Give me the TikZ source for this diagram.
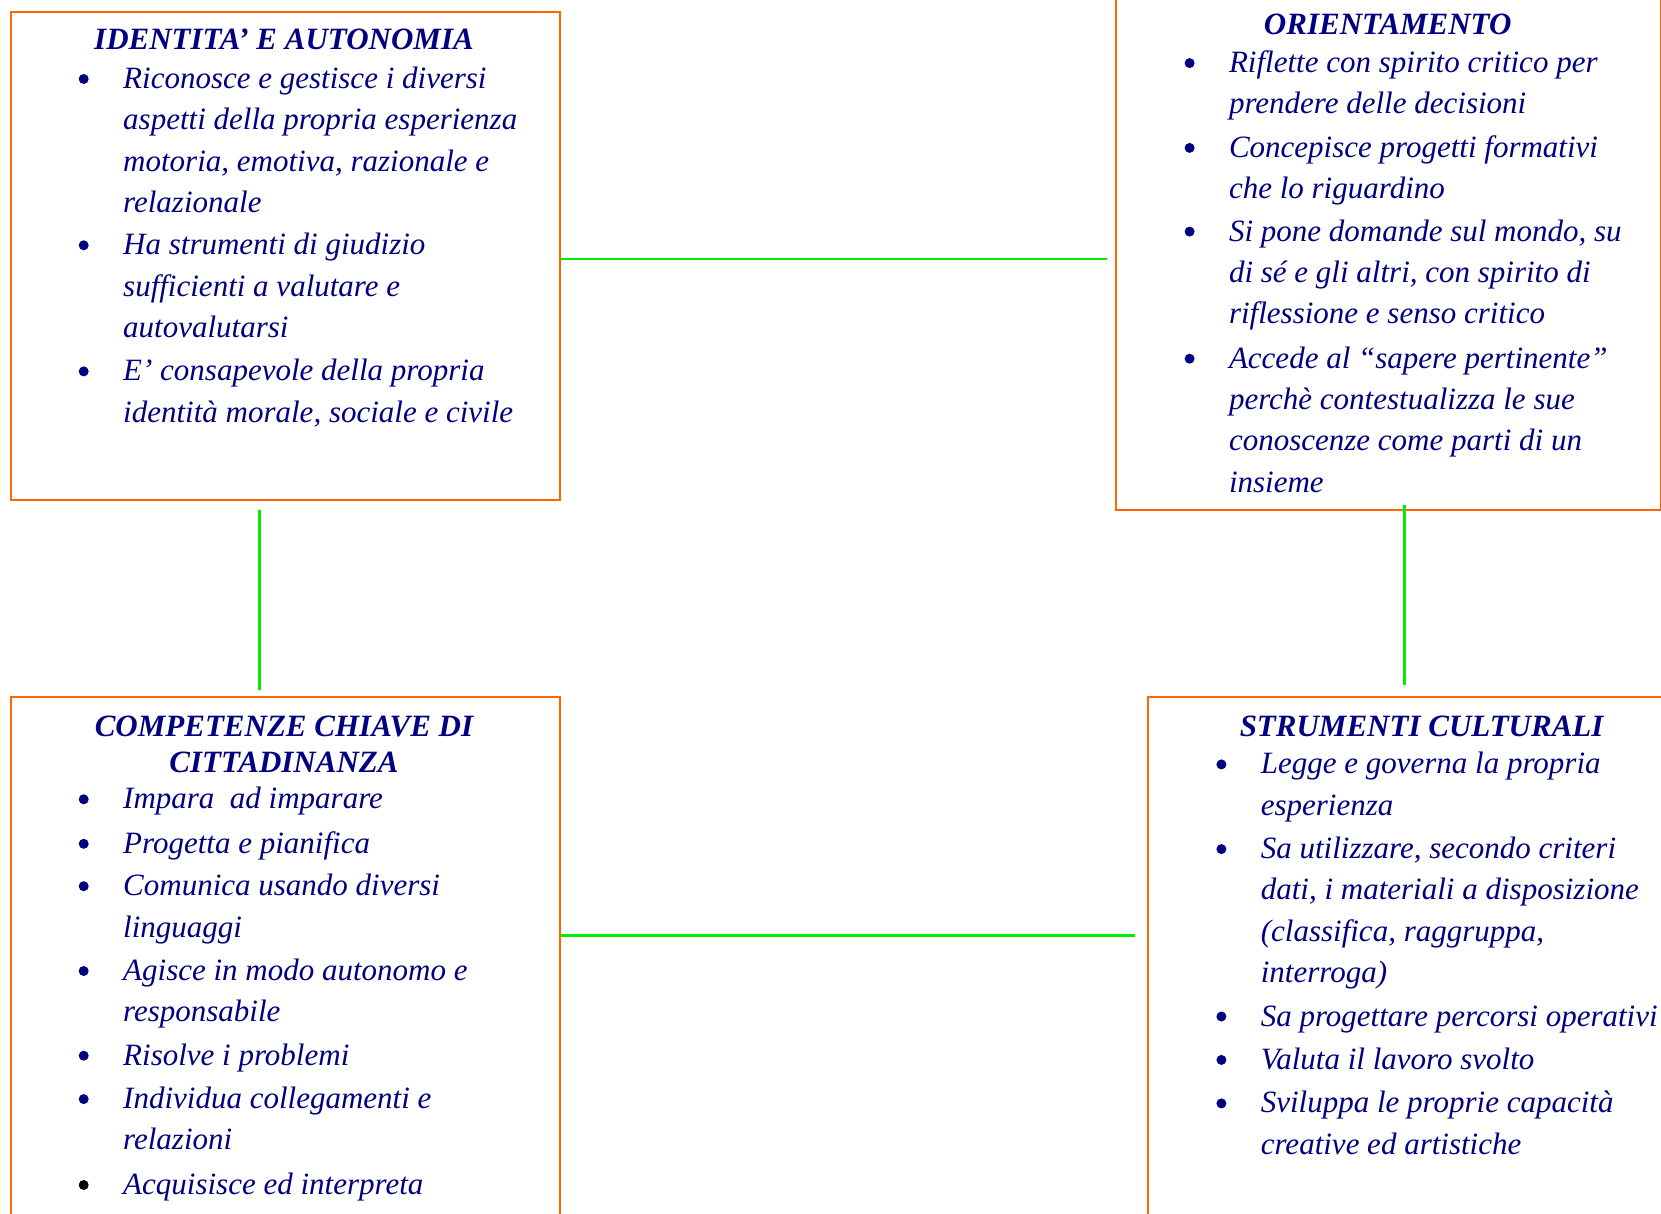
\documentclass[tikz,border=0pt]{standalone}
\usepackage{fontspec}
\setmainfont{Liberation Serif}
\definecolor{boxorange}{RGB}{255,102,0}
\definecolor{linkgreen}{RGB}{0,238,0}
\definecolor{navytext}{RGB}{0,0,128}
\tikzset{
  box/.style={draw=boxorange, line width=2pt, rectangle, inner sep=0pt, anchor=north west},
  link/.style={draw=linkgreen, line width=2.5pt},
  ttl/.style={font=\fontsize{31}{36}\selectfont\bfseries\itshape, text=navytext, anchor=base, inner sep=0pt, yshift=-1pt},
  txt/.style={font=\fontsize{31}{41.3}\selectfont\itshape, text=navytext, anchor=base west, inner sep=0pt, yshift=-2.2pt},
  bul/.style={circle, fill=navytext, inner sep=0pt, minimum size=10pt, yshift=7.3pt},
}
\newcommand{\mylines}[1]{\begin{tabular}[t]{@{}l@{}}#1\end{tabular}}
\newcommand{\mytitle}[1]{\begin{tabular}[t]{@{}c@{}}#1\end{tabular}}
\begin{document}
\begin{tikzpicture}[x=1pt,y=-1pt]
\path[use as bounding box, clip] (0,0) rectangle (1661,1214);
\fill[white] (0,0) rectangle (1661,1214);

% boxes
\node[box, minimum width=549.5pt, minimum height=488.4pt] (b1) at (9.5,10.6) {};
\node[box, minimum width=545pt, minimum height=528.5pt] (b2) at (1115,-20) {};
\node[box, minimum width=549.5pt, minimum height=544pt] (b3) at (9.5,696) {};
\node[box, minimum width=549pt, minimum height=544pt] (b4) at (1147,696) {};

% connectors
\coordinate (h1end) at (1107,259);
\coordinate (v1top) at (259.5,509.5);
\coordinate (v1bot) at (259.5,689.6);
\coordinate (v2top) at (1404.6,505);
\coordinate (v2bot) at (1404.6,685);
\coordinate (h2end) at (1134.5,935.5);
\draw[link] (b1.east |- h1end) -- (h1end);
\draw[link] (v1top) -- (v1bot);
\draw[link] (v2top) -- (v2bot);
\draw[link] (b3.east |- h2end) -- (h2end);

% box 1
\node[ttl] (t1) at (284,48.6) {IDENTITA’ E AUTONOMIA};
\node[bul] (b1d1) at (83.7,86.3) {};
\node[txt] (b1i1) at (123,86.3) {\mylines{Riconosce e gestisce i diversi\\aspetti della propria esperienza\\motoria, emotiva, razionale e\\relazionale}};
\node[bul] (b1d2) at (83.7,252.6) {};
\node[txt] (b1i2) at (123,252.6) {\mylines{Ha strumenti di giudizio\\sufficienti a valutare e\\autovalutarsi}};
\node[bul] (b1d3) at (83.7,378.7) {};
\node[txt] (b1i3) at (123,378.7) {\mylines{E’ consapevole della propria\\identità morale, sociale e civile}};

% box 2
\node[ttl] (t2) at (1387.7,33.2) {ORIENTAMENTO};
\node[bul] (b2d1) at (1189.6,70.4) {};
\node[txt] (b2i1) at (1228.8,70.4) {\mylines{Riflette con spirito critico per\\prendere delle decisioni}};
\node[bul] (b2d2) at (1189.6,155.2) {};
\node[txt] (b2i2) at (1228.8,155.2) {\mylines{Concepisce progetti formativi\\che lo riguardino}};
\node[bul] (b2d3) at (1189.6,238.9) {};
\node[txt] (b2i3) at (1228.8,238.9) {\mylines{Si pone domande sul mondo, su\\di sé e gli altri, con spirito di\\riflessione e senso critico}};
\node[bul] (b2d4) at (1189.6,366.0) {};
\node[txt] (b2i4) at (1228.8,366.0) {\mylines{Accede al “sapere pertinente”\\perchè contestualizza le sue\\conoscenze come parti di un\\insieme}};

% box 3
\node[ttl] (t3) at (284,735.1) {\mytitle{COMPETENZE CHIAVE DI\\CITTADINANZA}};
\node[bul] (b3d1) at (83.7,806.6) {};
\node[txt] (b3i1) at (123,806.6) {Impara\ \ ad imparare};
\node[bul] (b3d2) at (83.7,851.1) {};
\node[txt] (b3i2) at (123,851.1) {Progetta e pianifica};
\node[bul] (b3d3) at (83.7,893.5) {};
\node[txt] (b3i3) at (123,893.5) {\mylines{Comunica usando diversi\\linguaggi}};
\node[bul] (b3d4) at (83.7,978.3) {};
\node[txt] (b3i4) at (123,978.3) {\mylines{Agisce in modo autonomo e\\responsabile}};
\node[bul] (b3d5) at (83.7,1063) {};
\node[txt] (b3i5) at (123,1063) {Risolve i problemi};
\node[bul] (b3d6) at (83.7,1106.4) {};
\node[txt] (b3i6) at (123,1106.4) {\mylines{Individua collegamenti e\\relazioni}};
\node[bul, fill=black] (b3d7) at (83.7,1192.3) {};
\node[txt] (b3i7) at (123,1192.3) {Acquisisce ed interpreta};

% box 4
\node[ttl] (t4) at (1421.6,735.1) {STRUMENTI CULTURALI};
\node[bul] (b4d1) at (1221.4,771.7) {};
\node[txt] (b4i1) at (1260.6,771.7) {\mylines{Legge e governa la propria\\esperienza}};
\node[bul] (b4d2) at (1221.4,856.4) {};
\node[txt] (b4i2) at (1260.6,856.4) {\mylines{Sa utilizzare, secondo criteri\\dati, i materiali a disposizione\\(classifica, raggruppa,\\interroga)}};
\node[bul] (b4d3) at (1221.4,1023.8) {};
\node[txt] (b4i3) at (1260.6,1023.8) {Sa progettare percorsi operativi};
\node[bul] (b4d4) at (1221.4,1067.2) {};
\node[txt] (b4i4) at (1260.6,1067.2) {Valuta il lavoro svolto};
\node[bul] (b4d5) at (1221.4,1110.7) {};
\node[txt] (b4i5) at (1260.6,1110.7) {\mylines{Sviluppa le proprie capacità\\creative ed artistiche}};
\end{tikzpicture}
\end{document}
